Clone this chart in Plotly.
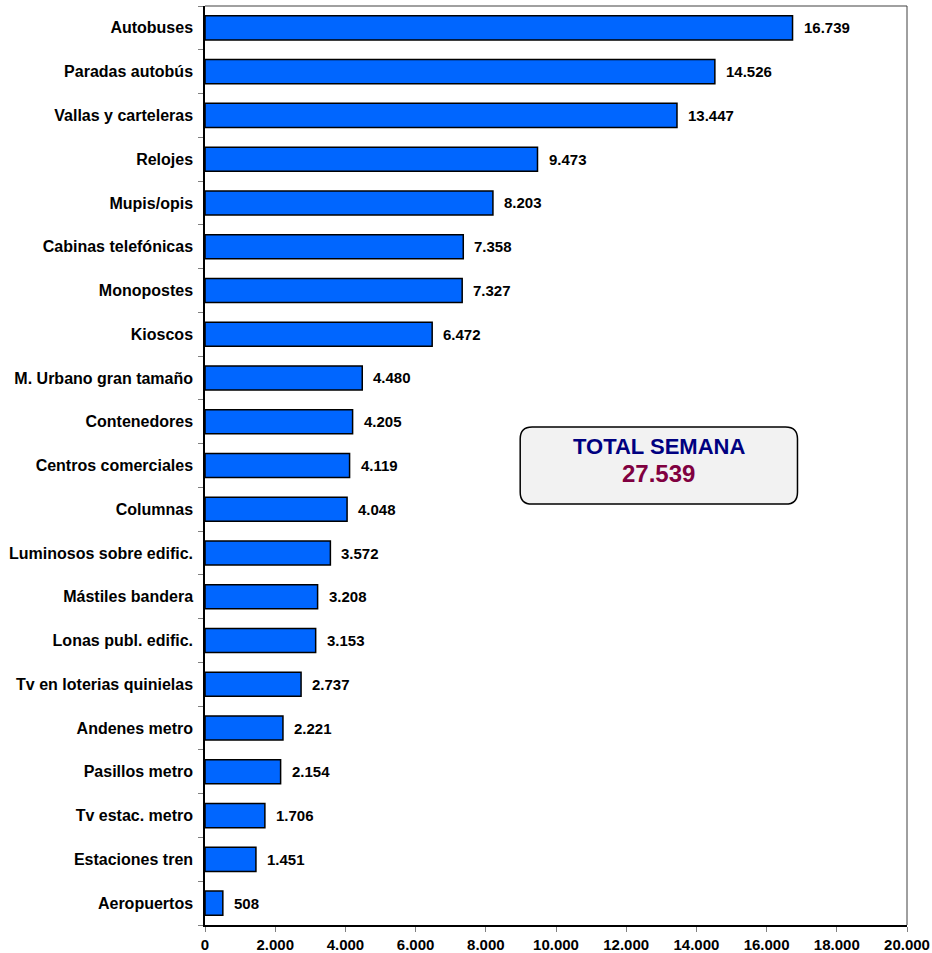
import plotly.graph_objects as go

categories = [
    "Autobuses", "Paradas autobús", "Vallas y carteleras", "Relojes", "Mupis/opis",
    "Cabinas telefónicas", "Monopostes", "Kioscos", "M. Urbano gran tamaño",
    "Contenedores", "Centros comerciales", "Columnas", "Luminosos sobre edific.",
    "Mástiles bandera", "Lonas publ. edific.", "Tv en loterias quinielas",
    "Andenes metro", "Pasillos metro", "Tv estac. metro", "Estaciones tren", "Aeropuertos",
]
values = [
    16739, 14526, 13447, 9473, 8203, 7358, 7327, 6472, 4480, 4205, 4119, 4048,
    3572, 3208, 3153, 2737, 2221, 2154, 1706, 1451, 508,
]
total_label = "TOTAL SEMANA"
total_value = 27539
x_ticks = list(range(0, 20001, 2000))


def es_num(v):
    return f"{v:,}".replace(",", ".")


font = "Liberation Sans, Arial, sans-serif"

fig = go.Figure(
    go.Bar(
        x=values,
        y=categories,
        orientation="h",
        width=0.55,
        marker={"color": "#0066FF", "line": {"color": "black", "width": 1.5}},
        hoverinfo="x+y",
    )
)

# value labels a bit to the right of each bar
for cat, v in zip(categories, values):
    fig.add_annotation(
        x=v, y=cat, text=f"<b>{es_num(v)}</b>", showarrow=False,
        xanchor="left", xshift=9, font={"size": 15, "color": "black", "family": font},
    )

# rounded total box
x0, x1, y0, y1 = 0.449, 0.844, 0.458, 0.542
rx, ry = 0.017, 0.013
path = (
    f"M {x0 + rx},{y0} L {x1 - rx},{y0} Q {x1},{y0} {x1},{y0 + ry} "
    f"L {x1},{y1 - ry} Q {x1},{y1} {x1 - rx},{y1} "
    f"L {x0 + rx},{y1} Q {x0},{y1} {x0},{y1 - ry} "
    f"L {x0},{y0 + ry} Q {x0},{y0} {x0 + rx},{y0} Z"
)
fig.add_shape(type="path", path=path, xref="paper", yref="paper",
              fillcolor="#F2F2F2", line={"color": "black", "width": 1.5})
fig.add_annotation(x=(x0 + x1) / 2, y=0.5205, xref="paper", yref="paper",
                   text=f"<b>{total_label}</b>", showarrow=False,
                   font={"size": 22, "color": "#000080", "family": font})
fig.add_annotation(x=(x0 + x1) / 2, y=0.4918, xref="paper", yref="paper",
                   text=f"<b>{es_num(total_value)}</b>", showarrow=False,
                   font={"size": 24, "color": "#800040", "family": font})

# top and right frame lines
fig.add_shape(type="line", xref="paper", yref="paper", x0=0, x1=1, y0=1, y1=1,
              line={"color": "#808080", "width": 1.5})
fig.add_shape(type="line", xref="paper", yref="paper", x0=1, x1=1, y0=0, y1=1,
              line={"color": "#404040", "width": 1})

fig.update_xaxes(
    range=[0, 20000], tickvals=x_ticks, ticktext=[f"<b>{es_num(t)}</b>" for t in x_ticks],
    showgrid=False, zeroline=False, showline=True, linecolor="black", linewidth=1.5,
    ticks="outside", ticklen=5, tickcolor="#808080", automargin=False,
    tickfont={"size": 15, "color": "black", "family": font},
)
fig.update_yaxes(
    autorange="reversed", showgrid=False, showline=True, linecolor="black", linewidth=1.5,
    ticks="outside", tickson="boundaries", ticklen=5, tickcolor="#808080",
    ticktext=[f"<b>{c}</b>" for c in categories], tickvals=categories, automargin=False,
    tickfont={"size": 16, "color": "black", "family": font}, ticklabelstandoff=7,
)
fig.update_layout(
    width=932, height=953,
    margin={"l": 205, "r": 25, "t": 6, "b": 28},
    plot_bgcolor="white", paper_bgcolor="white",
    showlegend=False, bargap=0.45,
)

# drop the browser's default body margin so the figure sits at the page corner
fig.write_html(
    "out.html",
    config={"displayModeBar": False},
    post_script="document.body.style.margin='0';document.body.style.overflow='hidden';",
)
